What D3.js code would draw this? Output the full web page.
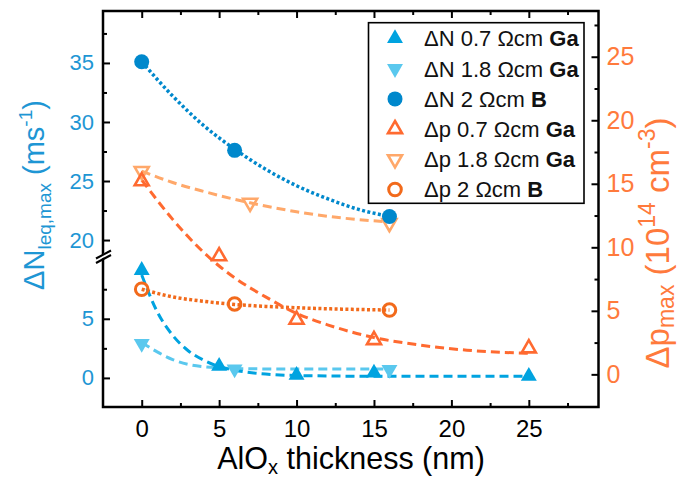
<!DOCTYPE html>
<html><head><meta charset="utf-8">
<script src="https://cdn.jsdelivr.net/npm/d3@7"></script>
<style>body{margin:0;background:#fff}svg{display:block}text{font-family:"Liberation Sans",Arial,sans-serif}</style>
</head><body><svg id="c" width="681" height="479"></svg>
<script>
// ---- data ----
const xTicks = [0,5,10,15,20,25];
const xMinor = [2.5,7.5,12.5,17.5,22.5,27.5];
const leftTicksLow = [0,5];
const leftMinorLow = [2.5,7.5];
const leftTicksHigh = [20,25,30,35];
const leftMinorHigh = [22.5,27.5,32.5,37.5];
const rightTicks = [0,5,10,15,20,25];
const rightMinor = [2.5,7.5,12.5,17.5,22.5,27.5];

const xN07 = [0,5,10,15,25];
const dN07 = [9.1,1.0,0.23,0.42,0.14];
const xN18 = [0,6,16];
const dN18 = [2.9,0.75,0.7];
const xN2B = [0,6,16];
const dN2B = [35.1,27.6,22.0];
const xp07 = [0,5,10,15,25];
const dp07 = [15.2,9.3,4.3,2.7,2.05];
const xp18 = [0,7,16];
const dp18 = [16.0,13.5,11.9];
const xp2B = [0,6,16];
const dp2B = [6.7,5.54,5.06];

// fit curves
const fitN07 = [[0,8.7],[1,5.6],[2,3.6],[3,2.3],[4,1.5],[5,0.95],[6,0.65],[8,0.33],[10,0.2],[15,0.14],[25,0.13]];
const fitN18 = [[0,3.0],[1,2.2],[2,1.55],[3,1.15],[4,0.95],[5,0.85],[7,0.77],[10,0.75],[16,0.75]];
const fitN2B = [[0,35.1],[2,32.2],[4,29.7],[6,27.7],[8,26.0],[10,24.6],[12,23.5],[14,22.6],[16,22.0]];
const fitp07 = [[0,15.3],[2,12.2],[4,9.6],[6,7.6],[8,6.1],[10,4.8],[12,3.9],[15,2.9],[18,2.3],[21,1.9],[25,1.65]];
const fitp18 = [[0,16.0],[2,15.1],[4,14.4],[7,13.5],[10,12.8],[13,12.3],[16,12.0]];
const fitp2B = [[0,6.7],[2,6.1],[4,5.75],[6,5.5],[8,5.35],[11,5.2],[16,5.06]];

const legendLabels = [
  ["\u0394N 0.7 \u03A9cm ","Ga"],["\u0394N 1.8 \u03A9cm ","Ga"],["\u0394N 2 \u03A9cm ","B"],
  ["\u0394p 0.7 \u03A9cm ","Ga"],["\u0394p 1.8 \u03A9cm ","Ga"],["\u0394p 2 \u03A9cm ","B"]];

// ---- layout ----
const L=103, R=598.5, T=11, B=407;
const cN07="#00a3e0", cN18="#5ac8ee", cN2B="#0088cc", cp07="#ff6a30", cp18="#ffa86a", cp2B="#f26a1b";
const cLeft="#1e96d4", cRight="#ff7a3c";

const svg=d3.select("#c");
const x=d3.scaleLinear().domain([-2.5,29.5]).range([L,R]);
const yL=d3.scaleLinear().domain([-2.46,10.36,18.7,39.4]).range([B,255.4,255.4,T]);
const yR=d3.scaleLinear().domain([-2.57,28.6]).range([B,T]);

function ax(gen, tr, color, fs){
  const g=svg.append("g").attr("transform",tr).call(gen);
  g.select(".domain").remove();
  g.selectAll("line").attr("stroke","#000").attr("stroke-width",2);
  g.selectAll("text").attr("fill",color).attr("font-size",fs).attr("font-family",'"Liberation Sans",Arial,sans-serif');
  return g;
}
// bottom
ax(d3.axisBottom(x).tickValues(xTicks).tickSizeInner(-7).tickSizeOuter(0).tickPadding(13),`translate(0,${B})`,"#000",24);
ax(d3.axisBottom(x).tickValues(xMinor).tickSizeInner(-4).tickSizeOuter(0).tickFormat(""),`translate(0,${B})`,"#000",24);
// top
ax(d3.axisTop(x).tickValues(xTicks).tickSizeInner(-7).tickSizeOuter(0).tickFormat(""),`translate(0,${T})`,"#000",24);
ax(d3.axisTop(x).tickValues(xMinor).tickSizeInner(-4).tickSizeOuter(0).tickFormat(""),`translate(0,${T})`,"#000",24);
// left
ax(d3.axisLeft(yL).tickValues(leftTicksLow.concat(leftTicksHigh)).tickSizeInner(-7).tickSizeOuter(0).tickPadding(9),`translate(${L},0)`,cLeft,22);
ax(d3.axisLeft(yL).tickValues(leftMinorLow.concat(leftMinorHigh)).tickSizeInner(-4).tickSizeOuter(0).tickFormat(""),`translate(${L},0)`,cLeft,22);
// right
ax(d3.axisRight(yR).tickValues(rightTicks).tickSizeInner(-7).tickSizeOuter(0).tickPadding(8),`translate(${R},0)`,cRight,25);
ax(d3.axisRight(yR).tickValues(rightMinor).tickSizeInner(-4).tickSizeOuter(0).tickFormat(""),`translate(${R},0)`,cRight,25);

// frame
svg.append("rect").attr("x",L).attr("y",T).attr("width",R-L).attr("height",B-T)
  .attr("fill","none").attr("stroke","#000").attr("stroke-width",2.5);

// axis break
svg.append("path").attr("d",`M${L-8},262 L${L+9},253.5 L${L+9},249.5 L${L-8},258 Z`).attr("fill","#fff");
svg.append("line").attr("x1",L-7).attr("y1",258.5).attr("x2",L+8).attr("y2",250.5).attr("stroke","#000").attr("stroke-width",2);
svg.append("line").attr("x1",L-7).attr("y1",263).attr("x2",L+8).attr("y2",255).attr("stroke","#000").attr("stroke-width",2);

// fit lines
const line=(ys)=>d3.line().x(d=>x(d[0])).y(d=>ys(d[1])).curve(d3.curveMonotoneX);
function fit(data, ys, color, dash, w){
  svg.append("path").attr("d",line(ys)(data)).attr("fill","none").attr("stroke",color)
    .attr("stroke-width",w).attr("stroke-dasharray",dash);
}
fit(fitN2B,yL,cN2B,"3,2.4",3.5);
fit(fitp2B,yR,cp2B,"3,2.4",3.5);
fit(fitp07,yR,cp07,"9,5",3);
fit(fitp18,yR,cp18,"9,5",3);
fit(fitN18,yL,cN18,"9,5",3);
fit(fitN07,yL,cN07,"9,5",3);

// markers
function marker(g, type, color, open){
  const sym = type==="c" ? d3.symbolCircle : d3.symbolTriangle;
  let size = type==="c" ? (open?125:177) : (open?85:110);
  const p=g.append("path").attr("d",d3.symbol().type(sym).size(size)());
  if(type==="d") p.attr("transform","rotate(180)");
  if(open) p.attr("fill","none").attr("stroke",color).attr("stroke-width",type==="c"?3:2.6);
  else p.attr("fill",color);
}
function series(xs, ys, scale, type, color, open){
  xs.forEach((xv,i)=>{
    const g=svg.append("g").attr("transform",`translate(${x(xv)},${scale(ys[i])})`);
    marker(g,type,color,open);
  });
}
series(xp18,dp18,yR,"d",cp18,true);
series(xp07,dp07,yR,"u",cp07,true);
series(xp2B,dp2B,yR,"c",cp2B,true);
series(xN18,dN18,yL,"d",cN18,false);
series(xN07,dN07,yL,"u",cN07,false);
series(xN2B,dN2B,yL,"c",cN2B,false);

// legend
svg.append("rect").attr("x",368.5).attr("y",22.7).attr("width",215.5).attr("height",180.6)
  .attr("fill","#fff").attr("stroke","#000").attr("stroke-width",1.6);
const legTypes=[["u",cN07,false],["d",cN18,false],["c",cN2B,false],["u",cp07,true],["d",cp18,true],["c",cp2B,true]];
legTypes.forEach((t,i)=>{
  const yy=38.5+i*30.2;
  const g=svg.append("g").attr("transform",`translate(395,${yy})`);
  marker(g,t[0],t[1],t[2]);
  const tx=svg.append("text").attr("x",424).attr("y",yy).attr("dy","0.36em").attr("font-size",22).attr("fill","#111");
  tx.append("tspan").text(legendLabels[i][0]);
  tx.append("tspan").attr("font-weight","bold").text(legendLabels[i][1]);
});

// axis titles
const xt=svg.append("text").attr("x",351).attr("y",469).attr("text-anchor","middle").attr("font-size",30.5).attr("fill","#000");
xt.append("tspan").text("AlO");
xt.append("tspan").attr("font-size",20).attr("dy",5).text("x");
xt.append("tspan").attr("dy",-5).text(" thickness (nm)");

const lt=svg.append("text").attr("transform","translate(44,195) rotate(-90)").attr("text-anchor","middle").attr("font-size",29).attr("fill",cLeft);
lt.append("tspan").text("\u0394N");
lt.append("tspan").attr("font-size",19).attr("dy",7).text("leq,max");
lt.append("tspan").attr("dy",-7).text(" (ms");
lt.append("tspan").attr("font-size",19).attr("dy",-12).text("-1");
lt.append("tspan").attr("dy",12).text(")");

const rt=svg.append("text").attr("transform","translate(669,243) rotate(-90)").attr("text-anchor","middle").attr("font-size",33).attr("fill",cRight);
rt.append("tspan").text("\u0394p");
rt.append("tspan").attr("font-size",23).attr("dy",5).text("max");
rt.append("tspan").attr("dy",-5).text(" (10");
rt.append("tspan").attr("font-size",23).attr("dy",-14).text("14");
rt.append("tspan").attr("dy",14).text(" cm");
rt.append("tspan").attr("font-size",23).attr("dy",-14).text("-3");
rt.append("tspan").attr("dy",14).text(")");
</script></body></html>
